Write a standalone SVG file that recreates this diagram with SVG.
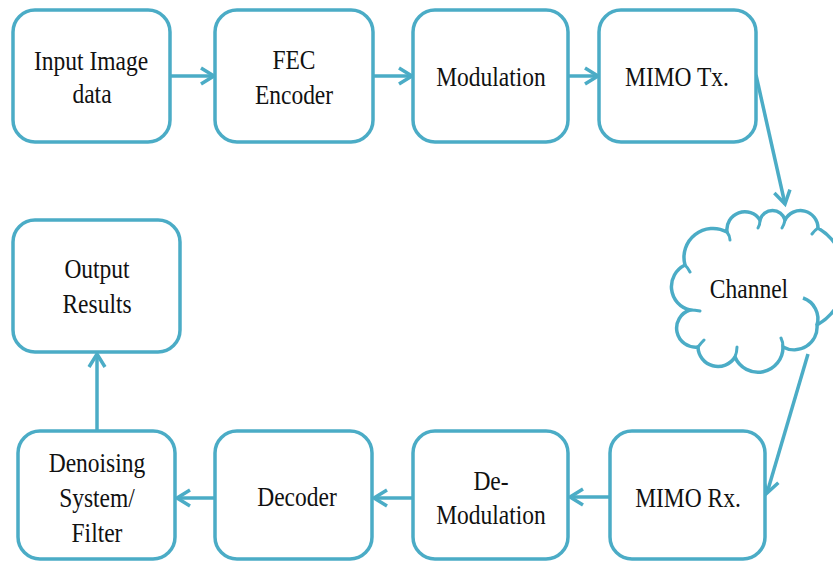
<svg xmlns="http://www.w3.org/2000/svg" width="833" height="561" viewBox="0 0 833 561">
<defs>
<style>
.box{fill:#fff;stroke:#4BACC6;stroke-width:3.5}
.t{font-family:"Liberation Serif","Times New Roman",serif;font-size:27px;fill:#111;text-anchor:middle}
.c{fill:none;stroke:#4BACC6;stroke-width:3.5}
.tk{fill:none;stroke:#4BACC6;stroke-width:3;stroke-linecap:round}
</style>
<marker id="ah" markerUnits="userSpaceOnUse" markerWidth="20" markerHeight="24" refX="15" refY="10" orient="auto">
<path d="M2,2 L15,10 L2,18" fill="none" stroke="#4BACC6" stroke-width="3.5" stroke-linejoin="miter"/>
</marker>
</defs>
<rect width="833" height="561" fill="#fff"/>
<g id="connectors">
<line class="c" x1="170" y1="76" x2="214" y2="76" marker-end="url(#ah)"/>
<line class="c" x1="373" y1="76" x2="412" y2="76" marker-end="url(#ah)"/>
<line class="c" x1="568" y1="76" x2="598" y2="76" marker-end="url(#ah)"/>
<line class="c" x1="756" y1="75" x2="785" y2="204" marker-end="url(#ah)"/>
<line class="c" x1="808" y1="354" x2="767" y2="493" marker-end="url(#ah)"/>
<line class="c" x1="610" y1="497" x2="570" y2="497" marker-end="url(#ah)"/>
<line class="c" x1="413" y1="498" x2="374" y2="498" marker-end="url(#ah)"/>
<line class="c" x1="215" y1="498" x2="177" y2="498" marker-end="url(#ah)"/>
<line class="c" x1="97" y1="431" x2="97" y2="354" marker-end="url(#ah)"/>
</g>
<g id="input">
<rect class="box" x="13" y="10" width="157" height="132" rx="22"/>
<text class="t" transform="translate(91 0) scale(0.87 1)" y="70">Input Image</text>
<text class="t" transform="translate(92 0) scale(0.87 1)" y="103">data</text>
</g>
<g id="fec">
<rect class="box" x="215" y="10" width="158" height="132" rx="22"/>
<text class="t" transform="translate(294 0) scale(0.87 1)" y="69">FEC</text>
<text class="t" transform="translate(294 0) scale(0.87 1)" y="104">Encoder</text>
</g>
<g id="modulation">
<rect class="box" x="413" y="10" width="155" height="132" rx="22"/>
<text class="t" transform="translate(491 0) scale(0.87 1)" y="86">Modulation</text>
</g>
<g id="mimotx">
<rect class="box" x="599" y="10" width="157" height="132" rx="22"/>
<text class="t" transform="translate(677 0) scale(0.87 1)" y="86">MIMO Tx.</text>
</g>
<g id="channel">
<path class="box" d="M698 347 A19 19 0 0 1 690 310 A24 24 0 0 1 685 265 A29 29 0 0 1 727 232 A18 18 0 0 1 760 220 A13 13 0 0 1 785 220 A17.5 17.5 0 0 1 818 228 A56 56 0 0 1 817 325 A23 23 0 0 1 783 347 A25 25 0 0 1 735 357 A20 20 0 0 1 698 347 Z"/>
<path class="c" d="M803 298 A22 22 0 0 1 817 325"/>
<path class="tk" d="M727 232 Q730 236 730 240 M760 220 Q760 225 758 228 M785 220 Q784 225 782 228 M818 228 Q815 230 812 234 M690 310 Q695 310 700 311 M685 265 Q688 268 690 272 M783 347 Q783 342 781 338 M735 357 Q737 352 737 347 M698 347 Q701 343 704 340"/>
<text class="t" transform="translate(749 0) scale(0.87 1)" y="298">Channel</text>
</g>
<g id="mimorx">
<rect class="box" x="610" y="431" width="155" height="128" rx="22"/>
<text class="t" transform="translate(688 0) scale(0.87 1)" y="507">MIMO Rx.</text>
</g>
<g id="demod">
<rect class="box" x="413" y="431" width="155" height="128" rx="22"/>
<text class="t" transform="translate(491 0) scale(0.87 1)" y="490">De-</text>
<text class="t" transform="translate(491 0) scale(0.87 1)" y="524">Modulation</text>
</g>
<g id="decoder">
<rect class="box" x="215" y="431" width="157" height="128" rx="22"/>
<text class="t" transform="translate(297 0) scale(0.87 1)" y="506">Decoder</text>
</g>
<g id="denoising">
<rect class="box" x="18" y="431" width="157" height="128" rx="22"/>
<text class="t" transform="translate(97 0) scale(0.87 1)" y="472">Denoising</text>
<text class="t" transform="translate(97 0) scale(0.87 1)" y="507">System/</text>
<text class="t" transform="translate(97 0) scale(0.87 1)" y="542">Filter</text>
</g>
<g id="output">
<rect class="box" x="13" y="220" width="167" height="132" rx="22"/>
<text class="t" transform="translate(97 0) scale(0.87 1)" y="278">Output</text>
<text class="t" transform="translate(97 0) scale(0.87 1)" y="313">Results</text>
</g>
</svg>
